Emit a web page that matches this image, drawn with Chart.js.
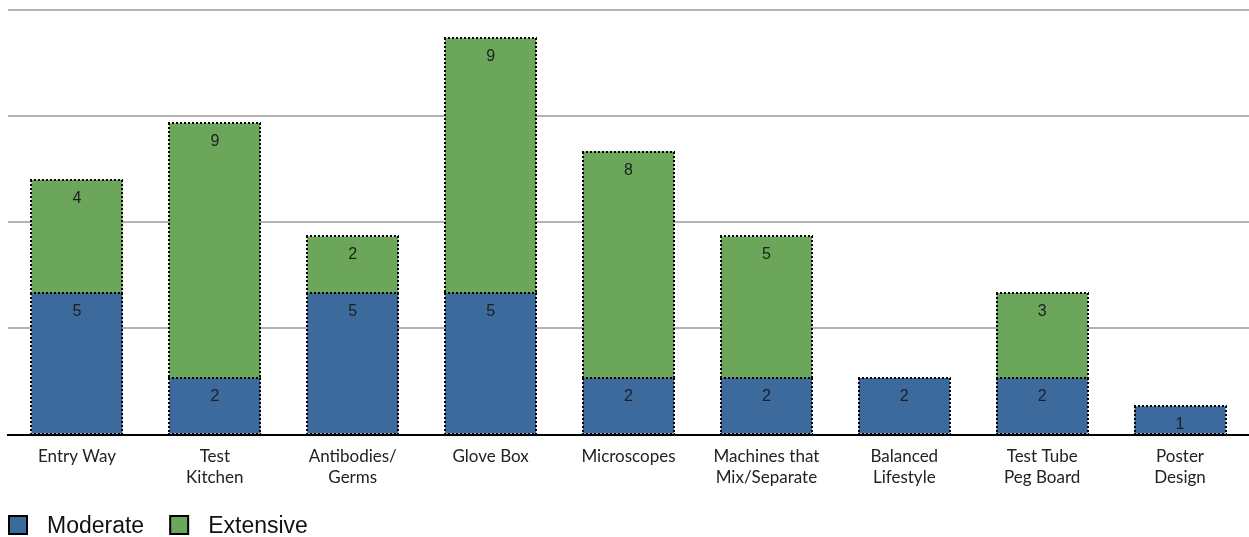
<!DOCTYPE html>
<html>
<head>
<meta charset="utf-8">
<script src="https://cdn.jsdelivr.net/npm/chart.js@4"></script>
<style>
  html, body { margin: 0; padding: 0; background: #fff; overflow: hidden; }
  canvas { display: block; }
</style>
</head>
<body>
<canvas id="chart" width="1249" height="537"></canvas>
<script>
// Activities and how many groups rated each as moderate / extensive
const categories = [
  'Entry Way',
  ['Test', 'Kitchen'],
  ['Antibodies/', 'Germs'],
  'Glove Box',
  'Microscopes',
  ['Machines that', 'Mix/Separate'],
  ['Balanced', 'Lifestyle'],
  ['Test Tube', 'Peg Board'],
  ['Poster', 'Design']
];
const moderate  = [5, 2, 5, 5, 2, 2, 2, 2, 1];
const extensive = [4, 9, 2, 9, 8, 5, null, 3, null];
const seriesNames = ['Moderate', 'Extensive'];
const seriesColors = ['#3c6a9c', '#6ba65a'];

const axisMax = 15;
const gridStep = 3.75;

// One dotted edge, always drawn left-to-right / top-to-bottom so shared edges line up
function dottedLine(ctx, x1, y1, x2, y2) {
  ctx.beginPath();
  ctx.moveTo(x1, y1);
  ctx.lineTo(x2, y2);
  ctx.stroke();
}

// Dotted outline around every bar segment plus the value printed near its top
const segmentDecor = {
  id: 'segmentDecor',
  afterDatasetsDraw(chart) {
    const ctx = chart.ctx;
    ctx.save();
    chart.data.datasets.forEach((ds, di) => {
      const meta = chart.getDatasetMeta(di);
      if (meta.hidden) return;
      meta.data.forEach((bar, i) => {
        const v = ds.data[i];
        if (v == null || v === 0) return;
        const p = bar.getProps(['x', 'y', 'base', 'width'], true);
        const left = Math.round(p.x - p.width / 2);
        const right = Math.round(p.x + p.width / 2);
        const top = Math.round(Math.min(p.y, p.base));
        const bottom = Math.round(Math.max(p.y, p.base));
        ctx.setLineDash([2, 2]);
        ctx.lineWidth = 2;
        ctx.strokeStyle = '#000';
        dottedLine(ctx, left - 1, top, right + 1, top);
        dottedLine(ctx, left - 1, bottom, right + 1, bottom);
        dottedLine(ctx, left, top, left, bottom);
        dottedLine(ctx, right, top, right, bottom);
        ctx.setLineDash([]);
        ctx.fillStyle = '#1e1e1e';
        ctx.font = '16px "Liberation Sans", Arial, sans-serif';
        ctx.textAlign = 'center';
        ctx.textBaseline = 'middle';
        ctx.fillText(String(v), p.x, top + 19);
      });
    });
    ctx.restore();
  }
};

// Legend row along the bottom left
const bottomLegend = {
  id: 'bottomLegend',
  afterDraw(chart) {
    const ctx = chart.ctx;
    ctx.save();
    const boxTop = 516;
    const box = 18;
    let x = 9;
    ctx.font = '23px "Liberation Sans", Arial, sans-serif';
    ctx.textBaseline = 'alphabetic';
    ctx.textAlign = 'left';
    chart.data.datasets.forEach((ds) => {
      ctx.fillStyle = ds.backgroundColor;
      ctx.fillRect(x, boxTop, box, box);
      ctx.lineWidth = 2;
      ctx.strokeStyle = '#000';
      ctx.strokeRect(x, boxTop, box, box);
      ctx.fillStyle = '#111';
      ctx.fillText(ds.label, x + 38, 533);
      x += 38 + ctx.measureText(ds.label).width + 26;
    });
    ctx.restore();
  }
};

new Chart(document.getElementById('chart'), {
  type: 'bar',
  data: {
    labels: categories,
    datasets: [
      { label: seriesNames[0], data: moderate, backgroundColor: seriesColors[0], borderWidth: 0 },
      { label: seriesNames[1], data: extensive, backgroundColor: seriesColors[1], borderWidth: 0 }
    ]
  },
  options: {
    responsive: false,
    animation: false,
    devicePixelRatio: 1,
    layout: { padding: { top: 10, left: 8, right: 0, bottom: 38 } },
    datasets: { bar: { categoryPercentage: 1, barPercentage: 0.66 } },
    plugins: {
      legend: { display: false },
      tooltip: { enabled: false }
    },
    scales: {
      x: {
        stacked: true,
        grid: { display: false, drawTicks: false },
        border: { display: true, color: '#000', width: 2 },
        ticks: {
          color: '#222',
          padding: 11,
          maxRotation: 0,
          autoSkip: false,
          font: { family: 'Lato, "Open Sans", sans-serif', size: 17, lineHeight: 1.25 }
        }
      },
      y: {
        stacked: true,
        min: 0,
        max: axisMax,
        border: { display: false },
        grid: {
          drawTicks: false,
          lineWidth: 2,
          color: (c) => (c.tick && c.tick.value === 0) ? 'rgba(0,0,0,0)' : '#b4b4b4'
        },
        ticks: { display: false, stepSize: gridStep }
      }
    }
  },
  plugins: [segmentDecor, bottomLegend]
});
</script>
</body>
</html>
